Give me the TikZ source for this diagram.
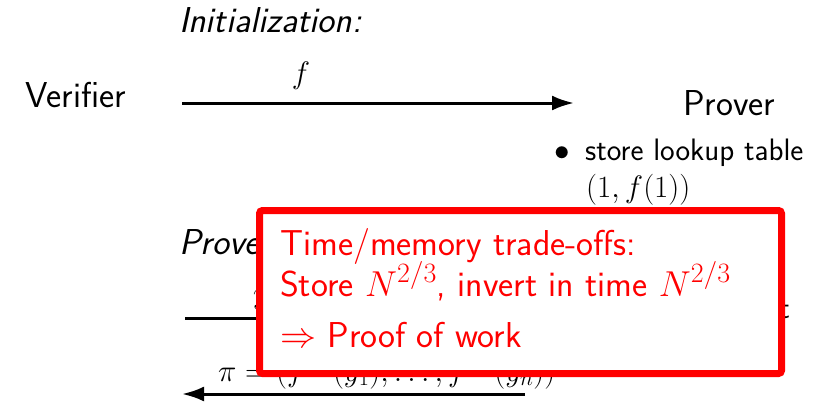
\RequirePackage{fix-cm}
\documentclass[tikz,border=0pt]{standalone}
\usetikzlibrary{arrows.meta}
\DeclareMathSizes{36}{36}{28}{20}
\DeclareMathSizes{31}{31}{22}{16}
\definecolor{alertred}{RGB}{255,0,0}
\tikzset{
  txt/.style={inner sep=0pt, anchor=base west, font=\sffamily\fontsize{36}{42}\selectfont},
  head/.style={txt, font=\sffamily\itshape\fontsize{36}{42}\selectfont},
  small/.style={inner sep=0pt, font=\sffamily\fontsize{31}{37}\selectfont},
  msg/.style={line width=3pt, -{Latex[length=22pt,width=15pt]}},
  alertbox/.style={draw=alertred, fill=white, line width=7pt, rounded corners=3pt},
  alerttxt/.style={txt, text=alertred},
}
\begin{document}
\begin{tikzpicture}[x=1pt,y=-1pt]
\useasboundingbox (0,0) rectangle (830,402);

% initialization phase
\node[head] (init) at (179,32) {Initialization:};
\node[txt] (ver) at (25,107) {Verifier};
\node[txt] (prv) at (683,115) {Prover};
\coordinate (a1s) at (182,103);
\coordinate (a1e) at (574,103);
\draw[msg] (a1s) -- (a1e);
\node[small, anchor=base] (flab) at (301,83) {$f$};
\node[small] (bul1) at (562.5,154) {$\bullet$};
\node[small, anchor=base west] (store) at (585,160) {store lookup table};
\node[small, anchor=base west] (tab) at (586,197) {$(1,f(1))$};

% proving phase
\node[head] (prove) at (179,254) {Prover:};
\coordinate (a2s) at (185,318);
\coordinate (a2e) at (570,318);
\draw[msg] (a2s) -- (a2e);
\node[small, anchor=base west] (ylab) at (253,303) {$y_1,\dots,y_n$};
\node[small, anchor=base east] (inv) at (790,318) {\textbullet\ invert};
\node[small, anchor=base west] (pi) at (218,381) {$\pi = (f^{-1}(y_1),\dots,f^{-1}(y_n))$};
\coordinate (a3s) at (525,394);
\coordinate (a3e) at (182,394);
\draw[msg] (a3s) -- (a3e);

% remark box
\draw[alertbox] (259.5,210.5) rectangle (781.5,373.5);
\node[alerttxt] (r1) at (280,255) {Time/memory trade-offs:};
\node[alerttxt] (r2) at (280,296) {Store $N^{2/3}$, invert in time $N^{2/3}$};
\node[alerttxt] (r3) at (280,347) {$\Rightarrow$ Proof of work};
\end{tikzpicture}
\end{document}
